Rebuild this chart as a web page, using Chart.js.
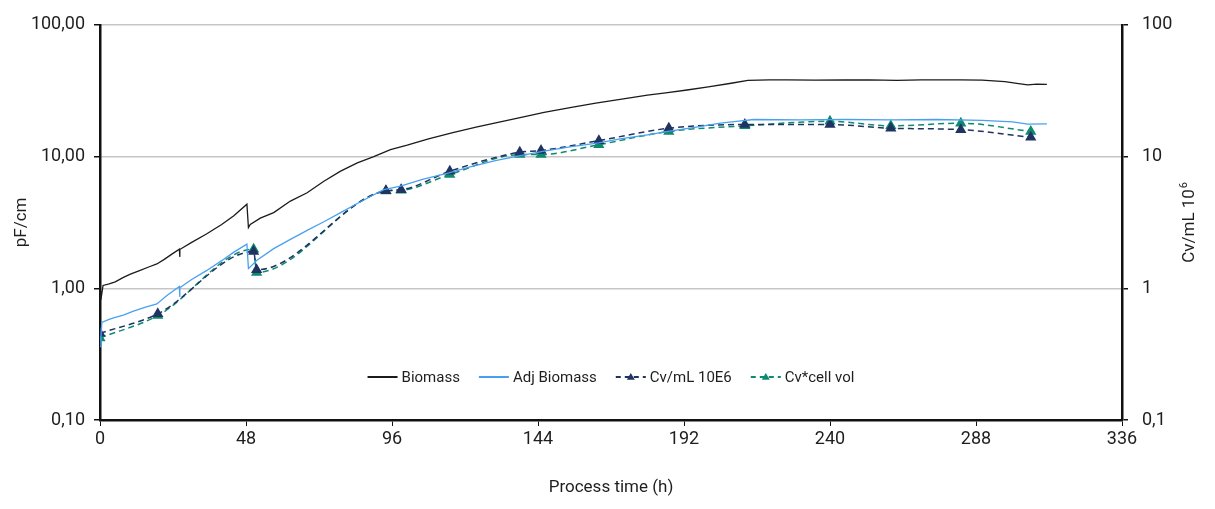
<!DOCTYPE html>
<html>
<head>
<meta charset="utf-8">
<script src="https://cdn.jsdelivr.net/npm/chart.js@4/dist/chart.umd.min.js"></script>
<style>
  html, body { margin: 0; padding: 0; background: #fff; }
  #wrap { width: 1215px; height: 509px; position: relative; }
</style>
</head>
<body>
<div id="wrap"><canvas id="chart"></canvas></div>
<script>
// Process time (h) and values
const biomassTime = [0, 0.3, 1, 3, 5, 7.7, 10, 13, 16, 18.7, 21, 24, 26.1, 26.2, 26.3, 30, 35, 40, 44, 48.3, 48.8, 49.4, 52.7, 57.1, 62.6, 68.1, 73.6, 79.1, 84.6, 90, 95.5, 101, 108, 116, 124, 132, 140, 146, 155, 163, 171, 180, 186, 193, 200, 207.5, 213, 220, 226, 235, 245, 253, 262, 270, 283, 290, 297.5, 302, 305, 308, 311.3];
const biomassValues = [0.95, 0.82, 1.05, 1.08, 1.12, 1.21, 1.28, 1.36, 1.45, 1.53, 1.65, 1.84, 1.98, 1.73, 1.97, 2.22, 2.58, 3.05, 3.55, 4.35, 2.89, 3.05, 3.41, 3.75, 4.59, 5.31, 6.5, 7.74, 8.95, 10.0, 11.3, 12.2, 13.6, 15.2, 16.8, 18.4, 20.2, 21.6, 23.6, 25.4, 27.2, 29.2, 30.4, 32, 33.8, 36, 37.8, 38.2, 38.2, 38, 38.1, 38.2, 37.8, 38.2, 38.2, 38, 37.1, 35.8, 35, 35.4, 35.3];

const adjTime = [0, 0.3, 0.6, 3, 5, 7.7, 11, 15, 18.7, 22, 26.1, 26.2, 26.3, 30, 35, 40, 44, 48.3, 48.8, 51.6, 57.1, 62.6, 68.1, 73.6, 79.1, 84.6, 90, 93.3, 98.8, 106, 114.7, 122, 130, 137.8, 146, 155, 164, 171, 180, 186.7, 195, 204, 210, 215, 230, 245, 260, 275, 290, 300, 305, 311.3];
const adjValues = [0.36, 0.42, 0.55, 0.58, 0.6, 0.625, 0.67, 0.72, 0.76, 0.88, 1.03, 0.86, 1.01, 1.16, 1.36, 1.62, 1.88, 2.16, 1.41, 1.63, 2.0, 2.35, 2.75, 3.2, 3.75, 4.4, 5.13, 5.6, 5.97, 6.7, 7.5, 8.4, 9.3, 10.1, 11, 11.9, 12.7, 13.6, 14.6, 15.5, 16.6, 17.9, 18.6, 19.1, 19, 19.1, 19, 19.1, 18.8, 18.3, 17.6, 17.7];

const sampleTime = [0, 19, 50.5, 51.5, 94, 99, 115, 138, 145, 164, 187, 212, 240, 260, 283, 306];
const cvValues = [0.455, 0.64, 1.9, 1.38, 5.5, 5.6, 7.74, 10.8, 11.1, 13.2, 16.4, 17.5, 17.5, 16.4, 16.0, 14.0];
const cvCellVolValues = [0.42, 0.62, 1.98, 1.32, 5.47, 5.54, 7.3, 10.35, 10.35, 12.3, 15.5, 17.1, 18.5, 17.1, 17.9, 15.5];

const xTicks = [0, 48, 96, 144, 192, 240, 288, 336];
const leftTickLabels = ['0,10', '1,00', '10,00', '100,00'];
const rightTickLabels = ['0,1', '1', '10', '100'];
const logTicks = [0.1, 1, 10, 100];

const FONT = 'Roboto, "Liberation Sans", sans-serif';
const TEXT = '#1e1e1e';

function toPoints(xs, ys) {
    return xs.map((x, i) => ({ x: x, y: ys[i] }));
}

// Legend inside the plot, plus the two rotated y titles (both read bottom to top)
const innerLegend = {
    id: 'innerLegend',
    afterDatasetsDraw(chart) {
        const ctx = chart.ctx;
        const area = chart.chartArea;
        const y = 377;
        const sample = 30;
        ctx.save();
        ctx.font = '15px ' + FONT;
        ctx.textBaseline = 'middle';
        const items = chart.data.datasets.map(ds => ({
            ds: ds,
            w: sample + 4 + ctx.measureText(ds.label).width
        }));
        const gap = 19;
        const total = items.reduce((s, it) => s + it.w, 0) + gap * (items.length - 1);
        let x = (area.left + area.right) / 2 - total / 2;
        items.forEach(it => {
            const ds = it.ds;
            ctx.strokeStyle = ds.borderColor;
            ctx.lineWidth = 2;
            ctx.setLineDash(ds.borderDash ? [5, 4] : []);
            ctx.beginPath();
            ctx.moveTo(x, y);
            ctx.lineTo(x + sample, y);
            ctx.stroke();
            ctx.setLineDash([]);
            if (ds.pointRadius > 0) {
                const cx = x + sample / 2, r = 4;
                ctx.fillStyle = ds.pointBackgroundColor;
                ctx.beginPath();
                ctx.moveTo(cx, y - r);
                ctx.lineTo(cx + r, y + r * 0.7);
                ctx.lineTo(cx - r, y + r * 0.7);
                ctx.closePath();
                ctx.fill();
            }
            ctx.fillStyle = TEXT;
            ctx.fillText(ds.label, x + sample + 4, y + 1);
            x += it.w + gap;
        });

        // y titles
        const midY = (area.top + area.bottom) / 2;
        ctx.fillStyle = TEXT;
        ctx.textBaseline = 'middle';

        ctx.save();
        ctx.translate(22, midY);
        ctx.rotate(-Math.PI / 2);
        ctx.font = '17px ' + FONT;
        ctx.textAlign = 'center';
        ctx.fillText('pF/cm', 0, 0);
        ctx.restore();

        // right title with a raised "6"
        ctx.save();
        ctx.translate(1190, midY);
        ctx.rotate(-Math.PI / 2);
        ctx.font = '17px ' + FONT;
        const base = 'Cv/mL 10';
        const wBase = ctx.measureText(base).width;
        ctx.font = '11px ' + FONT;
        const wSup = ctx.measureText('6').width;
        const start = -(wBase + wSup + 1) / 2;
        ctx.textAlign = 'left';
        ctx.font = '17px ' + FONT;
        ctx.fillText(base, start, 0);
        ctx.font = '11px ' + FONT;
        ctx.fillText('6', start + wBase + 1, -6);
        ctx.restore();

        ctx.restore();
    }
};

const logAxis = (position, labels, showGrid) => ({
    type: 'logarithmic',
    position: position,
    min: 0.1,
    max: 100,
    afterBuildTicks: axis => { axis.ticks = logTicks.map(v => ({ value: v })); },
    afterFit: axis => { axis.width = position === 'left' ? 100 : 93; },
    ticks: {
        color: TEXT,
        font: { family: FONT, size: 18 },
        padding: position === 'left' ? 9 : 14,
        callback: (v, i) => labels[i]
    },
    grid: {
        display: true,
        drawOnChartArea: showGrid,
        color: '#c6c6c6',
        lineWidth: 1.5,
        tickColor: '#111',
        tickLength: 6
    },
    border: { display: true, color: '#111', width: 2.5 },
    title: { display: false }
});

new Chart(document.getElementById('chart'), {
    type: 'line',
    data: {
        datasets: [
            {
                label: 'Biomass',
                data: toPoints(biomassTime, biomassValues),
                borderColor: '#1b1b1b',
                borderWidth: 1.3,
                pointRadius: 0,
                tension: 0,
                yAxisID: 'y'
            },
            {
                label: 'Adj Biomass',
                data: toPoints(adjTime, adjValues),
                borderColor: '#4aa0f0',
                borderWidth: 1.3,
                pointRadius: 0,
                tension: 0,
                yAxisID: 'y'
            },
            {
                label: 'Cv/mL 10E6',
                data: toPoints(sampleTime, cvValues),
                borderColor: '#1f3463',
                borderWidth: 1.5,
                borderDash: [6, 4],
                pointStyle: 'triangle',
                pointRadius: 5,
                pointBackgroundColor: '#1f3463',
                pointBorderColor: '#1f3463',
                cubicInterpolationMode: 'monotone',
                yAxisID: 'y2'
            },
            {
                label: 'Cv*cell vol',
                data: toPoints(sampleTime, cvCellVolValues),
                borderColor: '#0e8a6e',
                borderWidth: 1.5,
                borderDash: [6, 4],
                pointStyle: 'triangle',
                pointRadius: 5,
                pointBackgroundColor: '#0e8a6e',
                pointBorderColor: '#0e8a6e',
                cubicInterpolationMode: 'monotone',
                yAxisID: 'y2'
            }
        ]
    },
    options: {
        responsive: true,
        maintainAspectRatio: false,
        animation: false,
        layout: { padding: { top: 23, left: 0, right: 0, bottom: 0 } },
        plugins: {
            legend: { display: false },
            tooltip: { enabled: false }
        },
        scales: {
            x: {
                type: 'linear',
                min: 0,
                max: 336,
                afterBuildTicks: axis => { axis.ticks = xTicks.map(v => ({ value: v })); },
                afterFit: axis => { axis.height = 89; },
                ticks: {
                    color: TEXT,
                    font: { family: FONT, size: 18 },
                    padding: 3,
                    maxRotation: 0
                },
                grid: {
                    display: true,
                    drawOnChartArea: false,
                    tickColor: '#111',
                    tickLength: 6
                },
                border: { display: true, color: '#111', width: 2.5 },
                title: {
                    display: true,
                    text: 'Process time (h)',
                    color: TEXT,
                    font: { family: FONT, size: 17 },
                    padding: { top: 8, bottom: 11 }
                }
            },
            y: logAxis('left', leftTickLabels, true),
            y2: logAxis('right', rightTickLabels, false)
        }
    },
    plugins: [innerLegend]
});
</script>
</body>
</html>
